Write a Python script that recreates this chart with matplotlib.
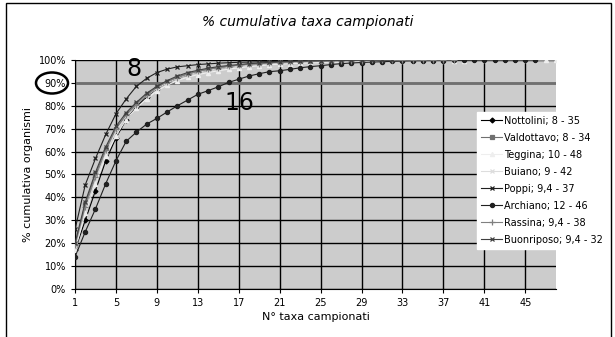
import matplotlib
matplotlib.use("Agg")
import matplotlib.pyplot as plt
from matplotlib.patches import Ellipse, Rectangle
from matplotlib.ticker import FuncFormatter

# cumulative % of organisms vs number of taxa, one list per site
nottolini = [17, 30, 43, 56, 66, 74, 79.5, 84, 87.5, 90, 92, 93.5, 94.7, 95.6, 96.3, 96.9, 97.4, 97.8,
             98.1, 98.4, 98.6, 98.8, 99.0, 99.1, 99.2, 99.3, 99.4, 99.5, 99.6, 99.7, 99.75, 99.8, 99.85,
             99.9, 100]
valdottavo = [19, 37, 50, 61, 70, 76, 81, 85, 88, 90.5, 92.5, 94, 95, 96, 96.7, 97.3, 97.8, 98.2, 98.5,
              98.8, 99.0, 99.2, 99.3, 99.4, 99.5, 99.6, 99.65, 99.7, 99.75, 99.8, 99.85, 99.9, 99.95, 100]
teggina = [17, 33, 46, 58, 67, 74, 79, 83, 86.5, 89, 91, 92.5, 93.6, 94.5, 95.3, 96, 96.6, 97.1, 97.5,
           97.9, 98.2, 98.4, 98.6, 98.8, 98.9, 99.0, 99.1, 99.2, 99.3, 99.35, 99.4, 99.45, 99.5, 99.55,
           99.6, 99.65, 99.7, 99.73, 99.76, 99.8, 99.83, 99.86, 99.89, 99.92, 99.94, 99.96, 99.98, 100]
buiano = [18, 35, 48, 60, 69, 75.5, 80.5, 84.5, 87.5, 90, 92, 93.5, 94.6, 95.5, 96.2, 96.8, 97.3, 97.7,
          98.0, 98.3, 98.6, 98.8, 99.0, 99.1, 99.2, 99.3, 99.4, 99.5, 99.55, 99.6, 99.65, 99.7, 99.75,
          99.8, 99.84, 99.87, 99.9, 99.92, 99.94, 99.96, 99.98, 100]
poppi = [26, 45.5, 57, 67.5, 76.5, 83, 88.5, 92, 94.5, 96, 97, 97.5, 98, 98.3, 98.6, 98.8, 99.0, 99.1,
         99.2, 99.3, 99.4, 99.5, 99.55, 99.6, 99.65, 99.7, 99.74, 99.78, 99.82, 99.85, 99.88, 99.9,
         99.92, 99.94, 99.96, 99.98, 100]
archiano = [14, 25, 35, 46, 56, 64.5, 68.5, 72, 74.5, 77.3, 80, 82.5, 85, 86.6, 88.3, 90.2, 91.6, 93,
            94, 94.9, 95.3, 95.9, 96.6, 97.1, 97.5, 98, 98.4, 98.7, 98.9, 99.1, 99.25, 99.4, 99.5, 99.6,
            99.65, 99.7, 99.75, 99.8, 99.84, 99.87, 99.9, 99.92, 99.94, 99.96, 99.98, 100]
rassina = [19, 36, 49, 60.5, 70, 76, 80.5, 84.5, 88, 90.5, 92.3, 93.8, 95, 95.9, 96.6, 97.2, 97.7, 98.1,
           98.4, 98.7, 98.9, 99.1, 99.25, 99.4, 99.5, 99.6, 99.65, 99.7, 99.75, 99.8, 99.84, 99.87,
           99.9, 99.92, 99.94, 99.96, 99.98, 100]
buonriposo = [20, 38, 51, 62, 71, 77, 81.5, 85.5, 88.5, 91, 93, 94.5, 95.5, 96.4, 97.1, 97.6, 98, 98.4,
              98.7, 99, 99.2, 99.35, 99.5, 99.6, 99.7, 99.75, 99.8, 99.85, 99.9, 99.94, 99.97, 100]

labels = ["Nottolini; 8 - 35", "Valdottavo; 8 - 34", "Teggina; 10 - 48", "Buiano; 9 - 42",
          "Poppi; 9,4 - 37", "Archiano; 12 - 46", "Rassina; 9,4 - 38", "Buonriposo; 9,4 - 32"]
series = [nottolini, valdottavo, teggina, buiano, poppi, archiano, rassina, buonriposo]
colors = ["#000000", "#707070", "#eeeeee", "#dddddd", "#202020", "#202020", "#808080", "#404040"]
markers = ["D", "s", "^", "x", "x", "o", "+", "x"]
msizes = [2.5, 3, 3, 3.5, 3.5, 3, 4.5, 3.5]

fig = plt.figure(figsize=(6.15, 3.37), dpi=100)
ax = fig.add_axes([0.122, 0.1424, 0.782, 0.6796])
ax.set_facecolor("#cccccc")

for vals, lab, c, m, ms in zip(series, labels, colors, markers, msizes):
    xs = list(range(1, len(vals) + 1))
    ax.plot(xs, vals, color=c, marker=m, markersize=ms, linewidth=0.8, label=lab,
            markeredgewidth=0.9, zorder=3)

ax.set_xlim(1, 48)
ax.set_ylim(0, 100)
ax.set_xticks(range(1, 46, 4))
ax.set_yticks(range(0, 101, 10))
ax.yaxis.set_major_formatter(FuncFormatter(lambda v, p: f"{int(v)}%"))
ax.tick_params(labelsize=7, length=3, width=0.8, direction="out")
ax.grid(True, color="black", linewidth=1)
ax.set_axisbelow(True)
ax.axhline(90, color="#707070", linewidth=2, zorder=2)
for s in ["top", "right"]:
    ax.spines[s].set_visible(False)

ax.set_xlabel("N° taxa campionati", fontsize=8, labelpad=3)
ax.set_ylabel("% cumulativa organismi", fontsize=8, labelpad=4)
fig.text(0.5, 0.935, "% cumulativa taxa campionati", ha="center", va="center",
         fontsize=10, style="italic")

fig.text(134 / 615, 1 - 68.5 / 337, "8", fontsize=17, ha="center", va="center")
fig.text(239.5 / 615, 1 - 102.5 / 337, "16", fontsize=17, ha="center", va="center")
fig.patches.append(Ellipse((52 / 615, 1 - 83 / 337), 32 / 615, 21 / 337, fill=False,
                           edgecolor="black", linewidth=1.8, transform=fig.transFigure))
fig.patches.append(Rectangle((6 / 615, -0.05), 605 / 615, 1.05 - 3 / 337, fill=False,
                             edgecolor="black", linewidth=1, transform=fig.transFigure))

leg = ax.legend(loc="upper left", bbox_to_anchor=(477 / 615, 1 - 112 / 337),
                bbox_transform=fig.transFigure, fontsize=7, frameon=True, fancybox=False,
                framealpha=1, edgecolor="white", borderpad=0.4, labelspacing=0.72,
                handlelength=2.2, handletextpad=0.2, borderaxespad=0)

fig.savefig("out.png", dpi=100)
